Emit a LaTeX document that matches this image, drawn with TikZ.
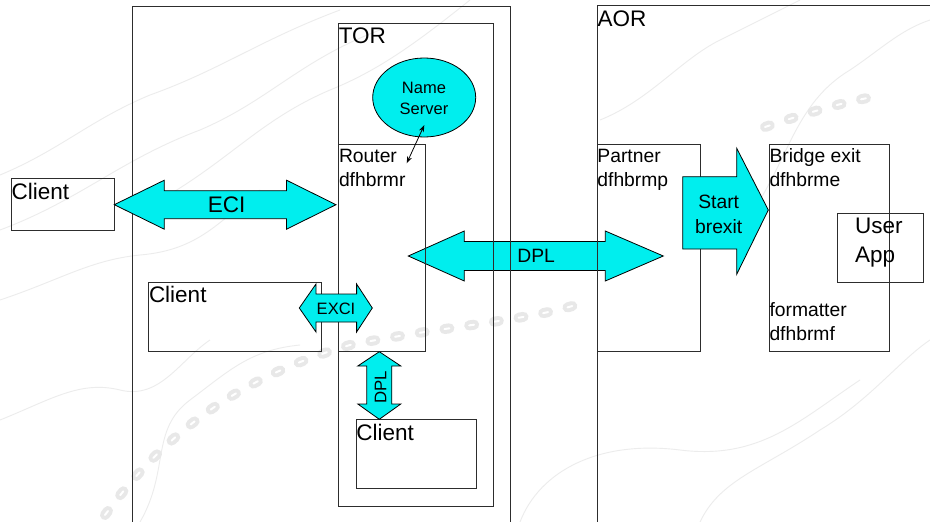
\documentclass[tikz,border=0pt]{standalone}
\usepackage{fontspec}
\setmainfont{Liberation Sans}
\usetikzlibrary{shapes.geometric,arrows.meta}
\definecolor{flowcyan}{RGB}{0,238,238}
\definecolor{edge}{RGB}{45,45,45}
\definecolor{contour}{RGB}{236,236,236}
\definecolor{trail}{RGB}{232,232,232}

\tikzset{
  frame/.style={draw=edge, line width=1pt, inner sep=0pt, anchor=north west},
  flow/.style={fill=flowcyan, draw=black, line width=0.8pt, line join=miter},
  big/.style={font=\fontsize{22.5}{28.5}\selectfont, inner sep=0pt},
  mid/.style={font=\fontsize{19.3}{24.5}\selectfont, inner sep=0pt, align=left},
  small/.style={font=\fontsize{16.5}{21}\selectfont, inner sep=0pt},
  topo/.style={draw=contour, line width=0.9pt},
  trailpath/.style={draw=trail, line width=4pt, double=white, double distance=2pt,
    line cap=round, dash pattern=on 5pt off 20pt},
}

% horizontal double block arrow: x1, x2, y, shaft half, head half, left head length, right head length
\newcommand{\hflow}[7]{%
  \filldraw[flow] (#1,#3) -- ({#1+#6},{#3-#5}) -- ({#1+#6},{#3-#4}) -- ({#2-#7},{#3-#4})
    -- ({#2-#7},{#3-#5}) -- (#2,#3) -- ({#2-#7},{#3+#5}) -- ({#2-#7},{#3+#4})
    -- ({#1+#6},{#3+#4}) -- ({#1+#6},{#3+#5}) -- cycle;}
% vertical double block arrow: x, y1, y2, shaft half, head half, top head length, bottom head length
\newcommand{\vflow}[7]{%
  \filldraw[flow] (#1,#2) -- ({#1+#5},{#2+#6}) -- ({#1+#4},{#2+#6}) -- ({#1+#4},{#3-#7})
    -- ({#1+#5},{#3-#7}) -- (#1,#3) -- ({#1-#5},{#3-#7}) -- ({#1-#4},{#3-#7})
    -- ({#1-#4},{#2+#6}) -- ({#1-#5},{#2+#6}) -- cycle;}

\begin{document}
\begin{tikzpicture}[x=1pt,y=-1pt]
\useasboundingbox (0,0) rectangle (930,522);
\fill[white] (0,0) rectangle (930,522);

% faint map texture in the background
\draw[topo] (0,175) .. controls (60,150) and (90,120) .. (150,95) .. controls (220,70) and (260,40) .. (340,10);
\draw[topo] (0,230) .. controls (80,200) and (120,160) .. (200,130) .. controls (270,100) and (300,60) .. (380,30);
\draw[topo] (160,200) .. controls (230,160) and (260,120) .. (330,90) .. controls (380,70) and (420,40) .. (470,0);
\draw[topo] (0,300) .. controls (60,280) and (90,260) .. (140,255) .. controls (200,250) and (220,220) .. (260,190);
\draw[topo] (0,420) .. controls (50,400) and (80,380) .. (120,390) .. controls (160,400) and (180,360) .. (210,340);
\draw[topo] (140,522) .. controls (170,470) and (150,430) .. (190,400) .. controls (230,370) and (250,350) .. (300,345);
\draw[topo] (520,522) .. controls (540,470) and (600,440) .. (680,450) .. controls (760,460) and (800,420) .. (860,380);
\draw[topo] (700,522) .. controls (720,480) and (760,470) .. (820,430) .. controls (870,400) and (900,360) .. (930,340);
\draw[topo] (600,120) .. controls (650,100) and (680,60) .. (720,40) .. controls (760,20) and (780,10) .. (800,0);
\draw[topo] (760,200) .. controls (790,150) and (800,100) .. (850,70) .. controls (880,50) and (900,30) .. (930,20);
% footpath trail
\draw[trailpath] (105,515) .. controls (160,440) and (230,380) .. (350,345)
  .. controls (450,325) and (540,320) .. (590,300);
\draw[trailpath] (765,127) .. controls (810,112) and (850,100) .. (885,95);

% DPL link between the regions, under the outlines
\hflow{408.3}{663.3}{256}{14.5}{25}{56}{58}

% regions and components
\node[frame, minimum width=378pt, minimum height=540pt] (hostL) at (132,6) {};
\node[frame, minimum width=400pt, minimum height=540pt] (aor) at (597,5) {};
\node[frame, minimum width=155pt, minimum height=482.4pt] (tor) at (338.3,23.3) {};
\node[frame, minimum width=86.2pt, minimum height=206.7pt] (router) at (338.3,144) {};
\node[frame, minimum width=103.3pt, minimum height=51.7pt] (client1) at (11,178.3) {};
\node[frame, minimum width=172.7pt, minimum height=68.4pt] (client2) at (148.3,282.3) {};
\node[frame, minimum width=120.3pt, minimum height=69pt] (client3) at (355.7,419.3) {};
\node[frame, minimum width=103pt, minimum height=206.4pt] (partner) at (597,144.3) {};
\node[frame, minimum width=120pt, minimum height=206.4pt] (bridge) at (769,144.3) {};
\node[frame, minimum width=86pt, minimum height=68.7pt] (userapp) at (837.3,213) {};

\node[ellipse, draw=black, line width=0.8pt, fill=flowcyan, minimum width=103pt,
      minimum height=79pt, inner sep=0pt] (ns) at (424.2,97.5) {};

% name server <-> router
\coordinate (nsTip) at (424.3,125);
\coordinate (rtTip) at (406.7,163.3);
\draw[{Stealth[length=7pt,width=5pt]}-{Stealth[length=7pt,width=5pt]}, line width=0.8pt]
  (nsTip) -- (rtTip);

% block arrows
\hflow{114.3}{336}{204.7}{14}{24.5}{50}{49.5}
\hflow{299.3}{372.3}{308}{14}{24}{16.7}{15.7}
\vflow{379.3}{351.7}{419.3}{12.5}{21.5}{14.3}{15.3}
\filldraw[flow] (682.7,176.7) -- (736.7,176.7) -- (736.7,148.3) -- (768.3,210)
  -- (736.7,274.3) -- (736.7,249) -- (682.7,249) -- cycle;

% labels (two-line labels are anchored on the baseline of their last line)
\node[big, anchor=base west] (torlabel) at (338.6,43.3) {TOR};
\node[big, anchor=base west] (aorlabel) at (597.5,26.7) {AOR};
\node[small, align=center, anchor=base] (nslabel) at (424,114.3) {Name\\Server};
\node[mid, anchor=base west] (rtlabel) at (338.8,186.7) {Router\\dfhbrmr};
\node[big, anchor=base west] (c1label) at (11.5,199.3) {Client};
\node[big, anchor=base] (ecilabel) at (226.7,212.3) {ECI};
\node[big, anchor=base west] (c2label) at (148.8,302.7) {Client};
\node[small, anchor=base] (excilabel) at (336,314) {EXCI};
\node[big, anchor=base west] (c3label) at (356.2,440) {Client};
\node[small, font=\fontsize{16.8}{20}\selectfont, rotate=90] (dplv) at (380.5,387) {DPL};
\node[mid, anchor=base] (dplh) at (536.2,262.7) {DPL};
\node[mid, anchor=base west] (ptlabel) at (597.2,186.7) {Partner\\dfhbrmp};
\node[mid, align=center, anchor=base] (sblabel) at (718.7,233.3) {Start\\brexit};
\node[mid, anchor=base west] (brlabel) at (769.3,186.7) {Bridge exit\\dfhbrme};
\node[big, font=\fontsize{22.5}{29.5}\selectfont, align=left, anchor=base west] (ualabel) at (855,262.8) {User\\App};
\node[mid, anchor=base west] (fmlabel) at (769.3,340.7) {formatter\\dfhbrmf};
\end{tikzpicture}
\end{document}
